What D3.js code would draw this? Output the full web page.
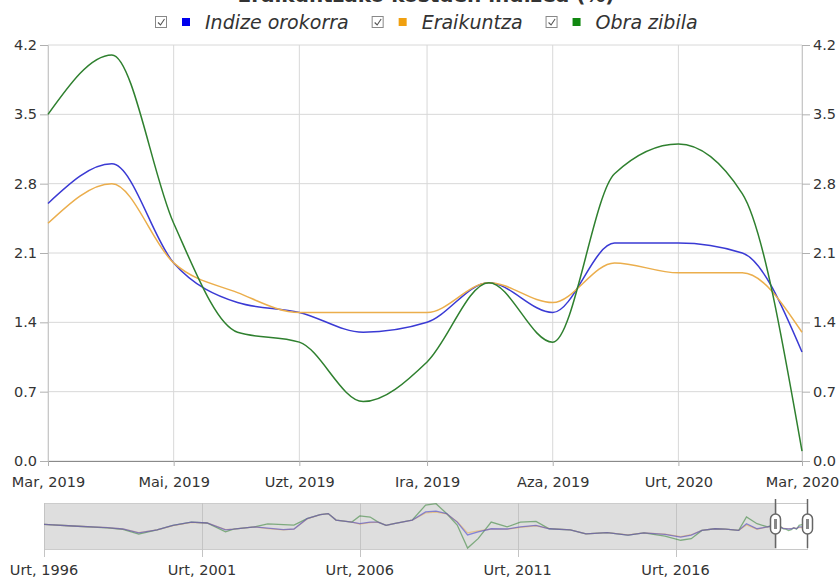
<!DOCTYPE html>
<html>
<head>
<meta charset="utf-8">
<script src="https://cdn.jsdelivr.net/npm/d3@7"></script>
<style>
  body { margin: 0; background: #fff; }
  svg text { font-family: "DejaVu Sans", sans-serif; fill: #333; }
</style>
</head>
<body>
<div id="chart-area"></div>
<script>
// Basque month abbreviations, Jan..Dec
const monthNames = ['Urt', 'Ots', 'Mar', 'Api', 'Mai', 'Eka', 'Uzt', 'Abu', 'Ira', 'Urr', 'Aza', 'Abe'];

const seriesNames = ['Indize orokorra', 'Eraikuntza', 'Obra zibila'];
const seriesColors = ['#3a3ad4', '#ebae4c', '#2f802f'];
const legendColors = ['#0000ee', '#f0a010', '#118811'];

// main chart: Mar 2019 .. Mar 2020
const months = ['2019-03', '2019-04', '2019-05', '2019-06', '2019-07', '2019-08', '2019-09',
  '2019-10', '2019-11', '2019-12', '2020-01', '2020-02', '2020-03'];
const indize = [2.6, 3.0, 2.0, 1.6, 1.5, 1.3, 1.4, 1.8, 1.5, 2.2, 2.2, 2.1, 1.1];
const eraikuntza = [2.4, 2.8, 2.0, 1.7, 1.5, 1.5, 1.5, 1.8, 1.6, 2.0, 1.9, 1.9, 1.3];
const obraZibila = [3.5, 4.1, 2.4, 1.3, 1.2, 0.6, 1.0, 1.8, 1.2, 2.9, 3.2, 2.7, 0.1];

const yTicks = [0, 0.7, 1.4, 2.1, 2.8, 3.5, 4.2];
const xTickMonths = ['2019-03', '2019-05', '2019-07', '2019-09', '2019-11', '2020-01', '2020-03'];

// navigator history (read roughly off the overview strip), before Mar 2019
const navMonths = ['1996-01', '1996-12', '1998-01', '1998-07', '1999-01', '1999-08', '2000-02', '2000-09',
  '2001-03', '2001-10', '2002-01', '2002-09', '2003-02', '2003-08', '2003-12', '2004-05', '2004-10',
  '2005-01', '2005-04', '2005-10', '2006-01', '2006-05', '2006-08', '2006-11', '2007-02', '2007-09',
  '2008-02', '2008-06', '2008-10', '2009-02', '2009-06', '2009-10', '2010-03', '2010-09', '2011-02',
  '2011-08', '2012-01', '2012-09', '2013-03', '2013-11', '2014-07', '2015-01', '2015-09', '2016-03',
  '2016-07', '2016-11', '2017-04', '2017-08', '2018-01', '2018-04', '2018-08', '2018-12'];
const navIndize = [3.3, 2.6, 1.9, 1.3, -0.4, 0.9, 2.9, 4.3, 3.9, 0.9, 1.2, 2.2, 1.7, 1.0, 1.3, 5.8, 7.5,
  8.0, 5.2, 4.3, 3.6, 4.3, 4.3, 2.9, 3.6, 5.2, 8.7, 9.1, 8.0, 4.3, -1.3, 0.0, 1.4, 1.3, 2.2, 2.9, 1.4,
  0.9, -0.8, -0.3, -1.4, -0.4, -1.0, -2.2, -1.4, 0.7, 1.4, 1.2, 0.7, 3.6, 1.4, 2.2];
const navEraikuntza = [3.3, 2.6, 1.9, 1.3, -0.3, 0.9, 2.8, 4.2, 3.9, 1.0, 1.2, 2.2, 1.5, 0.9, 1.2, 5.7, 7.5,
  8.0, 5.2, 4.3, 3.4, 4.1, 4.3, 2.9, 3.6, 5.1, 8.3, 8.6, 7.9, 4.5, -0.4, 0.5, 1.2, 1.2, 2.0, 2.7, 1.5,
  0.9, -0.8, -0.3, -1.3, -0.4, -0.9, -2.0, -1.2, 0.7, 1.4, 1.2, 0.7, 3.1, 1.2, 2.2];
const navObra = [3.3, 2.6, 1.8, 1.1, -0.9, 0.9, 2.9, 4.3, 3.9, 0.1, 1.2, 2.2, 3.5, 3.2, 3.0, 5.8, 7.5,
  8.0, 5.2, 4.3, 7.0, 6.5, 4.3, 2.9, 3.6, 5.2, 11.7, 12.3, 8.0, 3.0, -7.0, -2.9, 4.3, 2.2, 4.3, 4.6, 1.4,
  0.9, -0.8, -0.3, -1.4, -0.4, -1.8, -3.6, -2.9, 0.7, 1.4, 1.2, 0.7, 6.5, 3.6, 2.2];
const navTickMonths = ['1996-01', '2001-01', '2006-01', '2011-01', '2016-01'];

const parse = d3.timeParse('%Y-%m');
const label = (d) => monthNames[d.getMonth()] + ', ' + d.getFullYear();

const W = 840, H = 578;
const plot = { left: 48, right: 802, top: 45, bottom: 461 };
const nav = { left: 44, right: 807, top: 503, bottom: 549 };

const svg = d3.select('#chart-area')
  .append('svg')
  .attr('width', W)
  .attr('height', H);

// title (sits mostly above the visible area)
svg.append('text')
  .attr('x', 426)
  .attr('y', 2)
  .attr('text-anchor', 'middle')
  .attr('font-size', '20px')
  .attr('font-weight', 'bold')
  .text('Eraikuntzako kostuen indizea (%)');

// legend
const legend = svg.append('g');
let cursor = 0;
seriesNames.forEach((name, i) => {
  const item = legend.append('g').attr('transform', `translate(${cursor}, 0)`);
  item.append('rect')
    .attr('x', 0.5).attr('y', -5.5)
    .attr('width', 11).attr('height', 11)
    .attr('fill', '#fff').attr('stroke', '#888');
  item.append('path')
    .attr('d', 'M3,0.5 L5.5,3 L9.5,-3')
    .attr('fill', 'none').attr('stroke', '#555').attr('stroke-width', 1.1);
  item.append('rect')
    .attr('x', 27).attr('y', -4)
    .attr('width', 8).attr('height', 8)
    .attr('fill', legendColors[i]);
  const t = item.append('text')
    .attr('x', 50).attr('y', 7)
    .attr('font-size', '19px')
    .attr('font-style', 'italic')
    .attr('fill', '#111')
    .text(name);
  cursor += 50 + t.node().getComputedTextLength() + 23;
});
const legendWidth = cursor - 23;
legend.attr('transform', `translate(${Math.round(426 - legendWidth / 2)}, 22)`);

// main scales
const x = d3.scaleTime()
  .domain([parse(months[0]), parse(months[months.length - 1])])
  .range([plot.left, plot.right]);

const y = d3.scaleLinear()
  .domain([0, 4.2])
  .range([plot.bottom, plot.top]);

// grid
const grid = svg.append('g');
grid.selectAll('.hgrid').data(yTicks).enter().append('line')
  .attr('x1', plot.left).attr('x2', plot.right)
  .attr('y1', (d) => y(d)).attr('y2', (d) => y(d))
  .attr('stroke', '#d8d8d8');
grid.selectAll('.vgrid').data(xTickMonths.map(parse)).enter().append('line')
  .attr('x1', (d) => x(d)).attr('x2', (d) => x(d))
  .attr('y1', plot.top).attr('y2', plot.bottom)
  .attr('stroke', '#d8d8d8');

// axes
const fmt = d3.format('.1f');

const yLeft = svg.append('g')
  .attr('transform', `translate(${plot.left}, 0)`)
  .call(d3.axisLeft(y).tickValues(yTicks).tickFormat(fmt).tickSize(8).tickPadding(3));

const yRight = svg.append('g')
  .attr('transform', `translate(${plot.right}, 0)`)
  .call(d3.axisRight(y).tickValues(yTicks).tickFormat(fmt).tickSize(8).tickPadding(3));

const xAxis = svg.append('g')
  .attr('transform', `translate(0, ${plot.bottom})`)
  .call(d3.axisBottom(x).tickValues(xTickMonths.map(parse)).tickFormat(label).tickSize(5).tickPadding(11));

[yLeft, yRight].forEach((a) => {
  a.selectAll('.domain').attr('stroke', '#c8c8c8');
  a.selectAll('.tick line').attr('stroke', '#b0b0b0');
});
xAxis.selectAll('.domain').attr('stroke', '#8a8a8a');
xAxis.selectAll('.tick line').attr('stroke', '#b0b0b0');
svg.selectAll('.tick text').attr('font-size', '14.5px').attr('fill', '#333');

// lines
const mainSeries = [indize, eraikuntza, obraZibila];
const line = d3.line()
  .x((d) => x(d.date))
  .y((d) => y(d.value))
  .curve(d3.curveMonotoneX);

mainSeries.forEach((values, i) => {
  const data = months.map((m, j) => ({ date: parse(m), value: values[j] }));
  svg.append('path')
    .datum(data)
    .attr('fill', 'none')
    .attr('stroke', seriesColors[i])
    .attr('stroke-width', 1.5)
    .attr('d', line);
});

// navigator
const navX = d3.scaleTime()
  .domain([parse(navMonths[0]), parse(months[months.length - 1])])
  .range([nav.left, nav.right]);

const navSeries = [navIndize.concat(indize), navEraikuntza.concat(eraikuntza), navObra.concat(obraZibila)];
const allNavMonths = navMonths.concat(months);
const ext = d3.extent(navSeries.flat());

const navY = d3.scaleLinear()
  .domain([ext[0] - 0.4, ext[1] + 0.3])
  .range([nav.bottom, nav.top]);

const navG = svg.append('g');
navG.append('rect')
  .attr('x', nav.left + 0.5).attr('y', nav.top + 0.5)
  .attr('width', nav.right - nav.left).attr('height', nav.bottom - nav.top)
  .attr('fill', '#fff').attr('stroke', '#c8c8c8');

const selStart = x.domain()[0], selEnd = x.domain()[1];
navG.append('rect')
  .attr('x', nav.left + 0.5).attr('y', nav.top + 0.5)
  .attr('width', navX(selStart) - nav.left).attr('height', nav.bottom - nav.top)
  .attr('fill', '#dedede').attr('stroke', '#cccccc');

navG.selectAll('.navgrid').data(navTickMonths.map(parse)).enter().append('line')
  .attr('x1', (d) => Math.round(navX(d)) + 0.5).attr('x2', (d) => Math.round(navX(d)) + 0.5)
  .attr('y1', nav.top).attr('y2', nav.bottom + 8)
  .attr('stroke', '#c4c4c4');

navG.selectAll('.navlabel').data(navTickMonths.map(parse)).enter().append('text')
  .attr('x', (d) => navX(d))
  .attr('y', 575)
  .attr('text-anchor', 'middle')
  .attr('font-size', '14.5px')
  .text(label);

const navLine = d3.line()
  .x((d) => navX(d.date))
  .y((d) => navY(d.value));

// green first, blue on top
[2, 1, 0].forEach((i) => {
  const values = navSeries[i];
  const data = allNavMonths.map((m, j) => ({ date: parse(m), value: values[j] }));
  navG.append('path')
    .datum(data)
    .attr('fill', 'none')
    .attr('stroke', seriesColors[i])
    .attr('stroke-opacity', 0.55)
    .attr('stroke-width', 1.3)
    .attr('d', navLine);
});

// selection handles
[selStart, selEnd].forEach((d) => {
  const hx = Math.round(navX(d)) + 0.5;
  const hy = (nav.top + nav.bottom) / 2 - 2;
  navG.append('line')
    .attr('x1', hx).attr('x2', hx)
    .attr('y1', nav.top - 4).attr('y2', nav.bottom - 1)
    .attr('stroke', '#666').attr('stroke-width', 1.5);
  navG.append('rect')
    .attr('x', hx - 5).attr('y', hy - 10)
    .attr('width', 10).attr('height', 20)
    .attr('rx', 5)
    .attr('fill', '#fff').attr('stroke', '#666').attr('stroke-width', 1.5);
  navG.append('rect')
    .attr('x', hx - 1.5).attr('y', hy - 5)
    .attr('width', 3).attr('height', 10)
    .attr('fill', '#888');
});
</script>
</body>
</html>
